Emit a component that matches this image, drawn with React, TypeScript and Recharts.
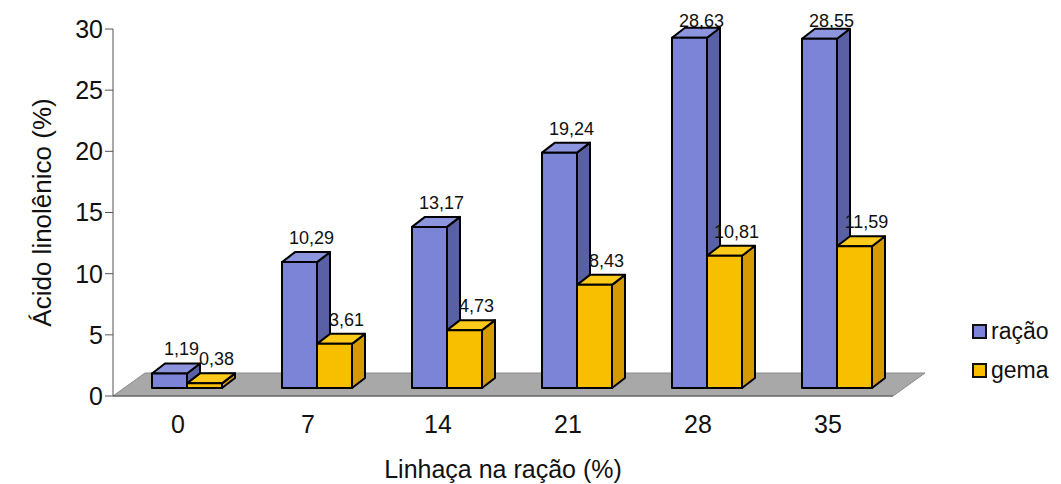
import {
    BarChart,
    Bar,
    XAxis,
    YAxis,
    LabelList,
    Legend,
    ReferenceArea,
} from "recharts";

// Linhaça (%) na ração
const categories = ["0", "7", "14", "21", "28", "35"];
// ácido linolênico (%) na ração e na gema
const racao = [1.19, 10.29, 13.17, 19.24, 28.63, 28.55];
const gema = [0.38, 3.61, 4.73, 8.43, 10.81, 11.59];
const yTicks = [0, 5, 10, 15, 20, 25, 30];
const edgeTicks = [0, 1, 2, 3, 4, 5, 6];

const data = categories.map((cat, i) => ({
    cat,
    racao: racao[i],
    gema: gema[i],
}));

const FONT = '"Liberation Sans", Arial, sans-serif';

// bars are pushed back into the floor, then given a depth
const SHIFT_X = 9;
const SHIFT_Y = -8;
const DEPTH_X = 13;
const DEPTH_Y = -10;

// floor depth
const FLOOR_X = 32;
const FLOOR_Y = -23;

const COLORS = {
    racao: { front: "#7b84d6", side: "#5a60a4", top: "#8d95de" },
    gema: { front: "#f7bf00", side: "#d49a00", top: "#fcca1a" },
};

type Faces = { front: string; side: string; top: string };

const makeBox = (faces: Faces) => (props: any) => {
    const { x, y, width, height } = props;
    if (width == null || height == null) return <g />;
    const x0 = x + SHIFT_X;
    const y0 = y + SHIFT_Y;
    const x1 = x0 + width;
    const y1 = y0 + height;
    return (
        <g stroke="#000" strokeWidth={2} strokeLinejoin="round">
            <polygon
                points={`${x1},${y0} ${x1 + DEPTH_X},${y0 + DEPTH_Y} ${x1 + DEPTH_X},${y1 + DEPTH_Y} ${x1},${y1}`}
                fill={faces.side}
            />
            <polygon
                points={`${x0},${y0} ${x0 + DEPTH_X},${y0 + DEPTH_Y} ${x1 + DEPTH_X},${y0 + DEPTH_Y} ${x1},${y0}`}
                fill={faces.top}
            />
            <rect x={x0} y={y0} width={width} height={height} fill={faces.front} />
        </g>
    );
};

const Floor = (props: any) => {
    const { x, y, width, height } = props;
    const bottom = y + height;
    const pts = [
        [x, bottom],
        [x + width, bottom],
        [x + width + FLOOR_X, bottom + FLOOR_Y],
        [x + FLOOR_X, bottom + FLOOR_Y],
    ]
        .map((p) => p.join(","))
        .join(" ");
    return <polygon points={pts} fill="#a8a8a8" stroke="#8a8a8a" strokeWidth={1} />;
};

const valueLabel = (props: any) => {
    const { x, y, width, value } = props;
    // keep the tallest labels inside the svg
    const ty = Math.max(y + SHIFT_Y + DEPTH_Y - 8, 19);
    return (
        <text
            x={x + width / 2 + SHIFT_X + 12}
            y={ty}
            textAnchor="middle"
            fontSize={18}
            fontFamily={FONT}
            fill="#111"
        >
            {String(value).replace(".", ",")}
        </text>
    );
};

const LegendBox = () => {
    const items = [
        { name: "ração", color: COLORS.racao.front },
        { name: "gema", color: COLORS.gema.front },
    ];
    return (
        <div style={{ fontFamily: FONT, fontSize: 23, color: "#111" }}>
            {items.map((it) => (
                <div
                    key={it.name}
                    style={{ display: "flex", alignItems: "center", height: 39 }}
                >
                    <span
                        style={{
                            width: 11,
                            height: 11,
                            background: it.color,
                            border: "2px solid #111",
                            marginRight: 4,
                        }}
                    />
                    {it.name}
                </div>
            ))}
        </div>
    );
};

export default function App() {
    return (
        <div style={{ width: 1045, height: 476, background: "#fff" }}>
            <BarChart
                width={1045}
                height={476}
                data={data}
                margin={{ top: 21, right: 160, bottom: 0, left: 0 }}
                barCategoryGap={30}
                barGap={0}
                style={{ fontFamily: FONT }}
            >
                <XAxis
                    xAxisId="edge"
                    type="number"
                    domain={[0, 6]}
                    ticks={edgeTicks}
                    height={0}
                    axisLine={false}
                    tickSize={7}
                    tickFormatter={() => ""}
                    tickLine={{ stroke: "#666" }}
                    allowDataOverflow
                />
                <XAxis
                    dataKey="cat"
                    height={88}
                    tickLine={false}
                    axisLine={{ stroke: "#555", strokeWidth: 1 }}
                    tickSize={8}
                    tickMargin={11}
                    tick={{ fontSize: 25, fill: "#111", fontFamily: FONT }}
                    label={{
                        value: "Linhaça na ração (%)",
                        position: "insideBottom",
                        offset: 6,
                        fontSize: 25,
                        fill: "#111",
                        fontFamily: FONT,
                    }}
                />
                <YAxis
                    width={105}
                    domain={[0, 30]}
                    ticks={yTicks}
                    interval={0}
                    tickSize={8}
                    tickMargin={2}
                    axisLine={{ stroke: "#555", strokeWidth: 1 }}
                    tickLine={{ stroke: "#555" }}
                    tick={{ fontSize: 25, fill: "#111", fontFamily: FONT }}
                    label={{
                        value: "Ácido linolênico (%)",
                        angle: -90,
                        position: "center",
                        dx: -19,
                        fontSize: 26,
                        fill: "#111",
                        fontFamily: FONT,
                    }}
                />
                <ReferenceArea
                    y1={0}
                    y2={1}
                    ifOverflow="visible"
                    shape={Floor}
                />
                <Bar
                    dataKey="racao"
                    name="ração"
                    fill={COLORS.racao.front}
                    shape={makeBox(COLORS.racao)}
                    isAnimationActive={false}
                >
                    <LabelList dataKey="racao" content={valueLabel} />
                </Bar>
                <Bar
                    dataKey="gema"
                    name="gema"
                    fill={COLORS.gema.front}
                    shape={makeBox(COLORS.gema)}
                    isAnimationActive={false}
                >
                    <LabelList dataKey="gema" content={valueLabel} />
                </Bar>
                <Legend
                    layout="horizontal"
                    verticalAlign="middle"
                    align="center"
                    content={<LegendBox />}
                    wrapperStyle={{ left: 964, top: 304, width: 90 }}
                />
            </BarChart>
        </div>
    );
}
